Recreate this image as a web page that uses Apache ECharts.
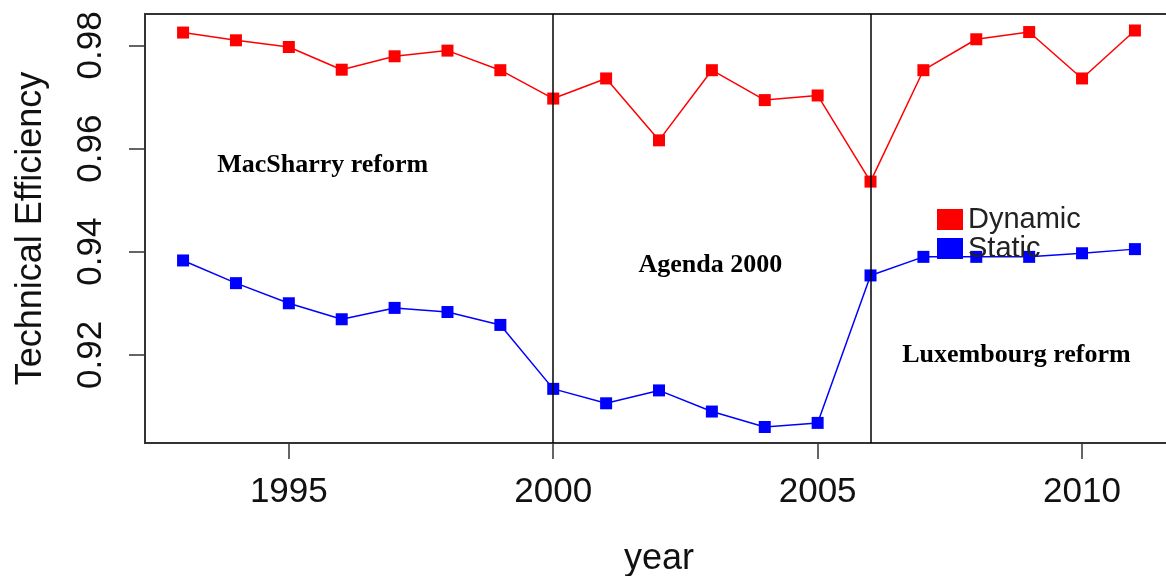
<!DOCTYPE html>
<html>
<head>
<meta charset="utf-8">
<script src="https://cdn.jsdelivr.net/npm/echarts@6/dist/echarts.min.js"></script>
<style>html,body{margin:0;padding:0;background:#fff}#c{width:1166px;height:576px}</style>
</head>
<body>
<div id="c"></div>
<script>
var years = [1993,1994,1995,1996,1997,1998,1999,2000,2001,2002,2003,2004,2005,2006,2007,2008,2009,2010,2011];
var dynamicTE = [0.9825,0.9810,0.9797,0.9753,0.9779,0.9790,0.9752,0.9697,0.9736,0.9616,0.9752,0.9694,0.9703,0.9536,0.9752,0.9812,0.9826,0.9736,0.9829];
var staticTE = [0.9383,0.9339,0.9300,0.9269,0.9291,0.9283,0.9258,0.9134,0.9106,0.9131,0.9090,0.9060,0.9068,0.9354,0.9390,0.9390,0.9390,0.9397,0.9405];
var xTicks = [1995,2000,2005,2010];
var yTicks = [0.92,0.94,0.96,0.98];
var reformYears = [2000,2006];
var periods = ['MacSharry reform','Agenda 2000','Luxembourg reform'];
var seriesNames = ['Dynamic','Static'];

function pairs(vals){ return years.map(function(y,i){ return [y, vals[i]]; }); }

var chart = echarts.init(document.getElementById('c'), null, {renderer:'canvas'});
var sans = 'Liberation Sans, Arial, sans-serif';
var serif = 'Liberation Serif, Times New Roman, serif';
chart.setOption({
  animation: false,
  backgroundColor: '#fff',
  grid: {left:145, top:14, right:-7, bottom:133, show:true, borderColor:'#333', borderWidth:2, containLabel:false, outerBoundsMode:'none'},
  legend: {
    data: seriesNames, orient:'vertical', left:937, top:205, padding:0, itemGap:0,
    icon:'rect', itemWidth:26, itemHeight:21,
    textStyle:{fontFamily:sans, fontSize:29, color:'#222', lineHeight:21}
  },
  xAxis: {
    type:'value', min:1992.28, max:2011.72,
    splitLine:{show:false},
    axisLine:{show:true, lineStyle:{color:'#333', width:2}},
    axisTick:{show:true, length:16, lineStyle:{color:'#333', width:1.5}, customValues:xTicks},
    axisLabel:{fontFamily:sans, fontSize:35, color:'#111', margin:32, customValues:xTicks,
      formatter:function(v){ return String(v); }},
    name:'year', nameLocation:'middle', nameGap:98,
    nameTextStyle:{fontFamily:sans, fontSize:36, color:'#111'}
  },
  yAxis: {
    type:'value', min:0.9029, max:0.9861,
    splitLine:{show:false},
    axisLine:{show:true, lineStyle:{color:'#333', width:2}},
    axisTick:{show:true, length:16, lineStyle:{color:'#333', width:1.5}, customValues:yTicks},
    axisLabel:{fontFamily:sans, fontSize:35, color:'#111', margin:36, rotate:90, customValues:yTicks,
      formatter:function(v){ return v.toFixed(2); }},
    name:'Technical Efficiency', nameLocation:'middle', nameGap:96, nameRotate:90,
    nameTextStyle:{fontFamily:sans, fontSize:36, color:'#111'}
  },
  series: [
    {name:seriesNames[0], type:'line', data:pairs(dynamicTE), symbol:'rect', symbolSize:12,
     itemStyle:{color:'#ff0000'}, lineStyle:{color:'#ff0000', width:1.5},
     markLine:{silent:true, symbol:['none','none'], label:{show:false},
       lineStyle:{color:'#000', type:'solid', width:1.5},
       data: reformYears.map(function(y){ return {xAxis:y}; })}},
    {name:seriesNames[1], type:'line', data:pairs(staticTE), symbol:'rect', symbolSize:12,
     itemStyle:{color:'#0000ff'}, lineStyle:{color:'#0000ff', width:1.5}}
  ]
});

function addLabels(){
  var spots = [[1995.64,0.9568],[2002.97,0.9373],[2008.76,0.9200]];
  var els = periods.map(function(t,i){
    var p = chart.convertToPixel({gridIndex:0}, spots[i]);
    return {type:'text', x:p[0], y:p[1], style:{text:t, fill:'#000', font:'bold 26px ' + serif, align:'center', verticalAlign:'middle'}, z:10};
  });
  chart.setOption({graphic: els});
}
addLabels();
</script>
</body>
</html>
